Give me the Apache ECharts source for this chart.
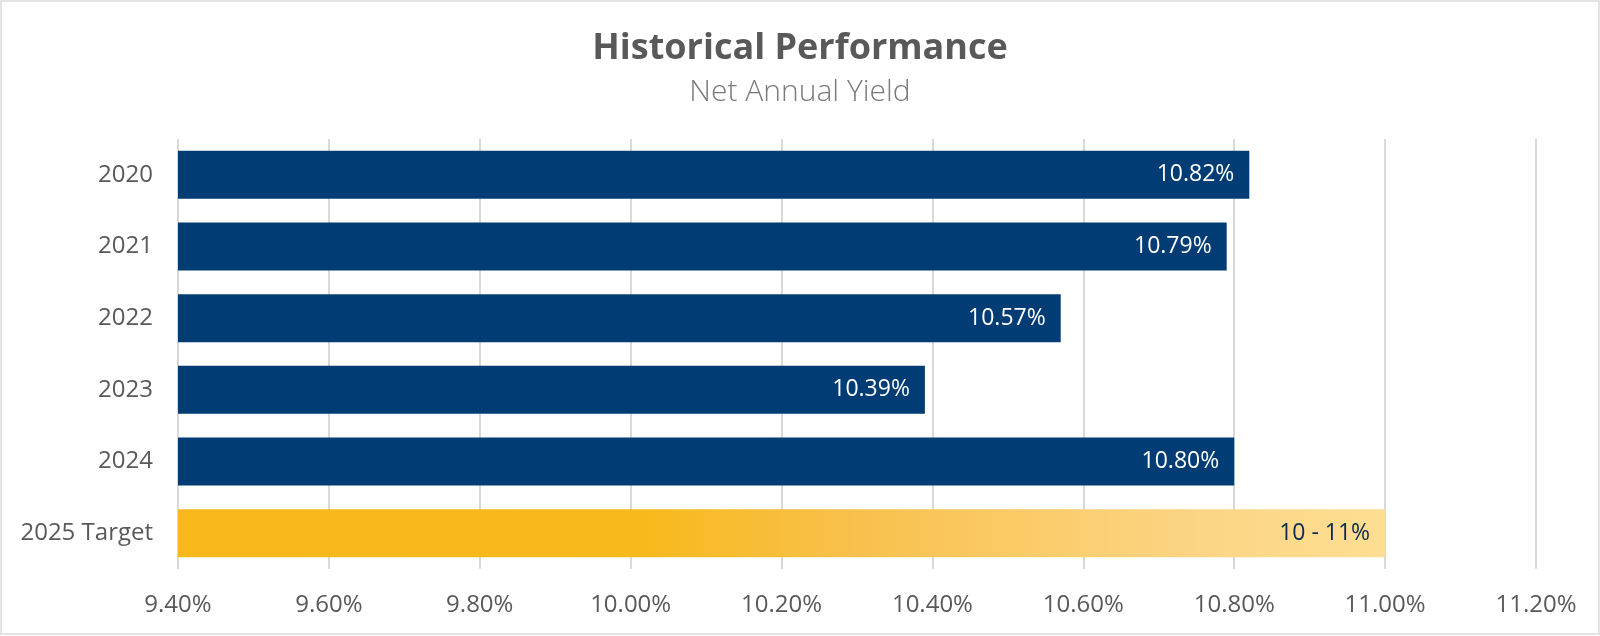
<!DOCTYPE html>
<html><head><meta charset="utf-8">
<script src="https://cdn.jsdelivr.net/npm/echarts@6/dist/echarts.min.js"></script>
<style>
html,body{margin:0;padding:0;background:#fff;}
#wrap{position:absolute;left:0;top:0;width:1596px;height:631px;border:2px solid #e3e3e3;}
#chart{width:1596px;height:631px;}
</style></head>
<body><div id="wrap"><div id="chart"></div></div>
<script>
const categories = ['2020','2021','2022','2023','2024','2025 Target'];
const values = [10.82, 10.79, 10.57, 10.39, 10.80, 11.00];
const barLabels = ['10.82%','10.79%','10.57%','10.39%','10.80%','10 - 11%'];
const axisMin = 9.4, axisMax = 11.2, axisStep = 0.2;

const FONT = 'Open Sans';
const chart = echarts.init(document.getElementById('chart'));
const data = values.map((v,i)=>{
  const last = i === values.length-1;
  return {
    value: v,
    itemStyle: last ? {color: new echarts.graphic.LinearGradient(0,0,1,0,[
      {offset:0,color:'#F8B81B'},{offset:0.39,color:'#F8B91D'},
      {offset:0.55,color:'#F8C04A'},{offset:0.7,color:'#FBCB68'},
      {offset:0.85,color:'#FBD585'},{offset:1,color:'#FDDE92'}])} : {color:'#023C74'},
    label: {color: last ? '#0B2752' : '#ffffff'}
  };
});
chart.setOption({
  animation:false,
  title:{
    text:'Historical Performance', subtext:'Net Annual Yield', left:'center', top:24,
    itemGap:10,
    textStyle:{fontFamily:FONT,fontSize:36,fontWeight:'bold',color:'#595959'},
    subtextStyle:{fontFamily:FONT,fontSize:30,fontWeight:300,color:'#7a7a7a'}
  },
  grid:{left:176,right:62,top:137,bottom:64,containLabel:false},
  xAxis:{
    type:'value', min:axisMin, max:axisMax, interval:axisStep,
    axisLine:{show:false}, axisTick:{show:false},
    splitLine:{show:true,lineStyle:{color:'#d9d9d9',width:2}},
    axisLabel:{margin:24,fontFamily:FONT,fontSize:24,color:'#595959',
      formatter:v=>v.toFixed(2)+'%'}
  },
  yAxis:{
    type:'category', data:categories, inverse:true,
    axisLine:{show:false}, axisTick:{show:false},
    axisLabel:{margin:25,fontFamily:FONT,fontSize:24,color:'#595959'}
  },
  series:[{
    type:'bar', data:data, barWidth:48,
    label:{show:true, position:'insideRight', distance:15, fontFamily:FONT, fontSize:23,
      formatter:p=>barLabels[p.dataIndex]}
  }]
});
</script></body></html>
